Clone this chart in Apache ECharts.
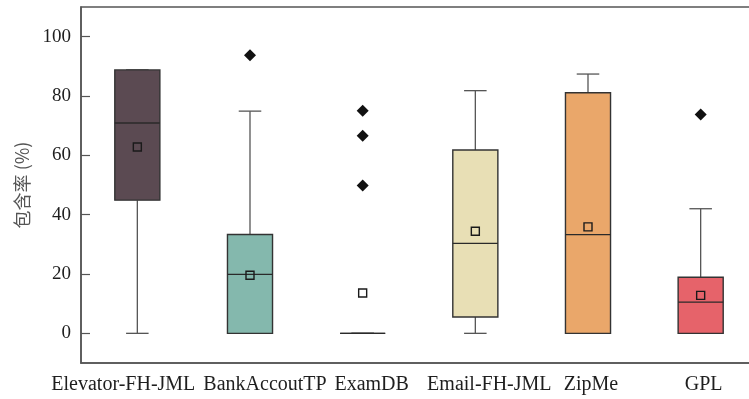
<!DOCTYPE html>
<html><head><meta charset="utf-8">
<script src="https://cdn.jsdelivr.net/npm/echarts@6/dist/echarts.min.js"></script>
<style>html,body{margin:0;padding:0;background:#fff}#c{width:749px;height:399px}</style>
</head><body><div id="c"></div>
<script>
const categories = ['Elevator-FH-JML','BankAccoutTP','ExamDB','Email-FH-JML','ZipMe','GPL'];
const whiskerLow = [0, 0, 0, 0, 0, 0];
const q1 = [44.9, 0, 0, 5.5, 0, 0];
const median = [70.9, 19.9, 0, 30.3, 33.3, 10.5];
const q3 = [88.8, 33.3, 0, 61.8, 81.1, 18.9];
const whiskerHigh = [88.8, 74.9, 0, 81.8, 87.4, 42.0];
const means = [62.8, 19.6, 13.6, 34.4, 35.9, 12.8];
const outliers = [[1, 93.7], [2, 75.0], [2, 66.6], [2, 49.8], [5, 73.8]];
const boxColors = ['#5b4a52', '#84b8ad', '#ffffff', '#e8dfb5', '#eaa76a', '#e6636a'];
const yTicks = [0, 20, 40, 60, 80, 100];

const boxData = categories.map((c, i) => [i, whiskerLow[i], q1[i], median[i], q3[i], whiskerHigh[i]]);
const meanData = categories.map((c, i) => [i, means[i]]);

// horizontal label nudges (px) so labels sit as in the reference without overlapping
const labelShift = [-14, 15, 9, 14, 3, 3];
const font = 'Liberation Serif, Times New Roman, serif';
const rich = {};
labelShift.forEach((s, i) => {
  rich['l' + i] = { fontFamily: font, fontSize: 20, color: '#1e1e1e',
    padding: s >= 0 ? [0, 0, 0, 2 * s] : [0, -2 * s, 0, 0] };
});

const chart = echarts.init(document.getElementById('c'));
chart.setOption({
  animation: false,
  grid: { left: 81, top: 7, width: 676, height: 356, outerBoundsMode: 'none', containLabel: false,
          show: true, borderColor: '#555', borderWidth: 1.5, backgroundColor: 'transparent' },
  xAxis: {
    type: 'category', data: categories, boundaryGap: true,
    axisLine: { onZero: false, lineStyle: { color: '#555', width: 1.5 } },
    axisTick: { inside: true, length: 9, alignWithLabel: true, lineStyle: { color: '#555', width: 1.2 } },
    axisLabel: { color: '#1e1e1e', fontFamily: font, fontSize: 20, margin: 12, interval: 0, hideOverlap: false,
      formatter: function (v, i) { return '{l' + i + '|' + v + '}'; }, rich: rich },
    splitLine: { show: false }
  },
  yAxis: {
    type: 'value', min: -10, max: 110,
    name: '包含率 (%)', nameLocation: 'middle', nameGap: 50, nameRotate: 90,
    nameTextStyle: { color: '#555', fontFamily: 'Noto Sans CJK SC, Liberation Serif, serif', fontSize: 18 },
    axisLine: { show: true, lineStyle: { color: '#555', width: 1.5 } },
    axisTick: { show: true, inside: true, length: 9, customValues: yTicks, lineStyle: { color: '#555', width: 1.2 } },
    axisLabel: { color: '#1e1e1e', fontFamily: font, fontSize: 19, margin: 10, customValues: yTicks },
    splitLine: { show: false }
  },
  series: [
    {
      type: 'custom',
      data: boxData,
      encode: { x: 0, y: [1, 2, 3, 4, 5] },
      renderItem: function (params, api) {
        const i = api.value(0);
        const bw = api.size([1, 0])[0] * 0.4;
        const hw = bw / 2, cw = bw / 4;
        const pLow = api.coord([i, api.value(1)]);
        const pQ1 = api.coord([i, api.value(2)]);
        const pMed = api.coord([i, api.value(3)]);
        const pQ3 = api.coord([i, api.value(4)]);
        const pHigh = api.coord([i, api.value(5)]);
        const x = pLow[0];
        const wStyle = { stroke: '#555', lineWidth: 1.3 };
        return {
          type: 'group',
          children: [
            { type: 'line', shape: { x1: x, y1: pLow[1], x2: x, y2: pQ1[1] }, style: wStyle },
            { type: 'line', shape: { x1: x, y1: pQ3[1], x2: x, y2: pHigh[1] }, style: wStyle },
            { type: 'line', shape: { x1: x - cw, y1: pLow[1], x2: x + cw, y2: pLow[1] }, style: wStyle },
            { type: 'line', shape: { x1: x - cw, y1: pHigh[1], x2: x + cw, y2: pHigh[1] }, style: wStyle },
            { type: 'rect', shape: { x: x - hw, y: pQ3[1], width: bw, height: pQ1[1] - pQ3[1] },
              style: { fill: boxColors[i], stroke: '#333', lineWidth: 1.4 } },
            { type: 'line', shape: { x1: x - hw, y1: pMed[1], x2: x + hw, y2: pMed[1] }, style: { stroke: '#2a2a2a', lineWidth: 1.3 } }
          ]
        };
      },
      z: 2
    },
    {
      type: 'scatter', data: meanData, symbol: 'rect', symbolSize: 8,
      itemStyle: { color: 'rgba(0,0,0,0)', borderColor: '#1a1a1a', borderWidth: 1.4, opacity: 1 }, z: 5
    },
    {
      type: 'scatter', data: outliers, symbol: 'diamond', symbolSize: [12, 12],
      itemStyle: { color: '#111', opacity: 1 }, z: 5
    }
  ]
});
</script></body></html>
